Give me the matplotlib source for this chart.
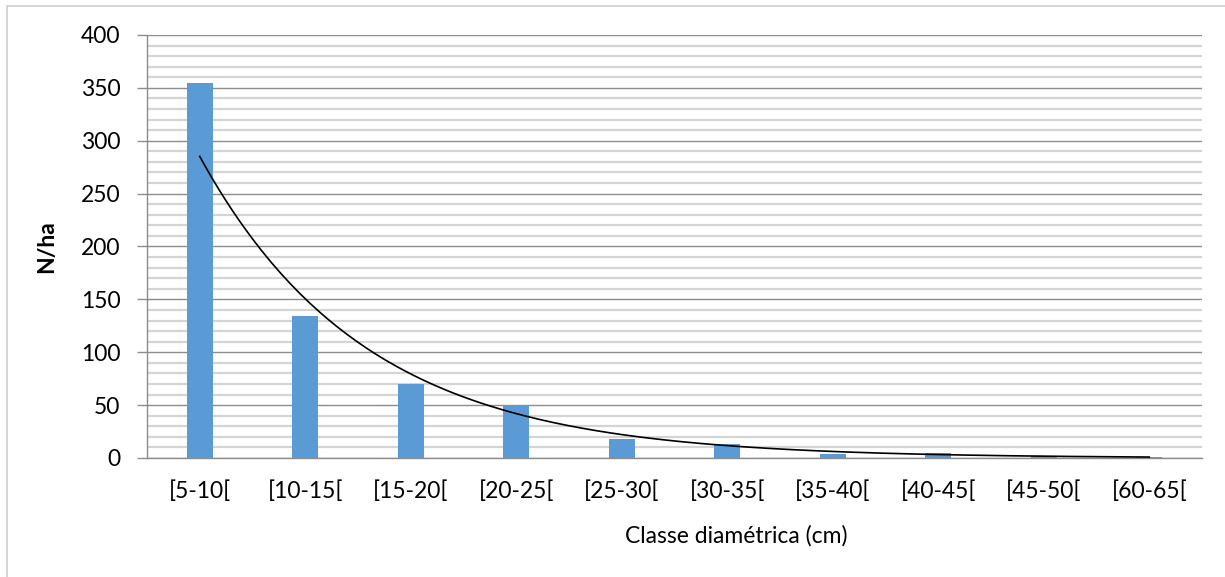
import numpy as np
import matplotlib
matplotlib.use("Agg")
import matplotlib.pyplot as plt
from matplotlib.patches import Rectangle
from matplotlib.ticker import MultipleLocator

# dados
classes = ['[5-10[', '[10-15[', '[15-20[', '[20-25[', '[25-30[',
           '[30-35[', '[35-40[', '[40-45[', '[45-50[', '[60-65[']
n_ha = [355, 134, 70, 50, 18, 13, 4, 5, 1.5, 1]

plt.rcParams['font.family'] = ['Lato', 'DejaVu Sans']
fs = 16.5

fig = plt.figure(figsize=(12.25, 5.77), dpi=100)
ax = fig.add_axes([147 / 1225, 1 - 458 / 577, 1055 / 1225, 423 / 577])

x = np.arange(len(classes))
ax.bar(x, n_ha, width=0.25, color='#5B9BD5', zorder=3)

# linha de tendência exponencial (ajuste em ln y, como no Excel)
b, ln_a = np.polyfit(x + 1, np.log(n_ha), 1)
xt = np.linspace(1, len(classes), 200)
ax.plot(xt - 1, np.exp(ln_a) * np.exp(b * xt), color='black', lw=1.2, zorder=4)

ax.set_xlim(-0.5, len(classes) - 0.5)
ax.set_ylim(0, 400)
ax.yaxis.set_major_locator(MultipleLocator(50))
ax.yaxis.set_minor_locator(MultipleLocator(10))
ax.grid(which='minor', axis='y', color='#d4d4d4', lw=1.6, zorder=0)
ax.grid(which='major', axis='y', color='#8c8c8c', lw=1.0, zorder=1)

ax.set_xticks(x)
ax.set_xticklabels(classes)
ax.tick_params(axis='x', length=0, pad=16, labelsize=fs)
ax.tick_params(axis='y', which='major', length=7, width=1, color='#8c8c8c',
               pad=12, labelsize=fs)
ax.tick_params(axis='y', which='minor', length=0)

for s in ['top', 'right']:
    ax.spines[s].set_visible(False)
for s in ['left', 'bottom']:
    ax.spines[s].set_color('#8c8c8c')
    ax.spines[s].set_linewidth(1.0)

ax.set_ylabel('N/ha', fontsize=fs, fontweight='bold')
ax.yaxis.set_label_coords(-0.0853, 0.5)
ax.set_xlabel('Classe diamétrica (cm)', fontsize=fs, va='center')
ax.xaxis.set_label_coords(0.559, -0.1844)

# moldura do gráfico
fig.add_artist(Rectangle((7 / 1225, -0.1), 1.2, (577 - 6) / 577 + 0.1,
                         transform=fig.transFigure, fill=False,
                         edgecolor='#d0d0d0', lw=1.2))

fig.savefig('out.png', dpi=100)
